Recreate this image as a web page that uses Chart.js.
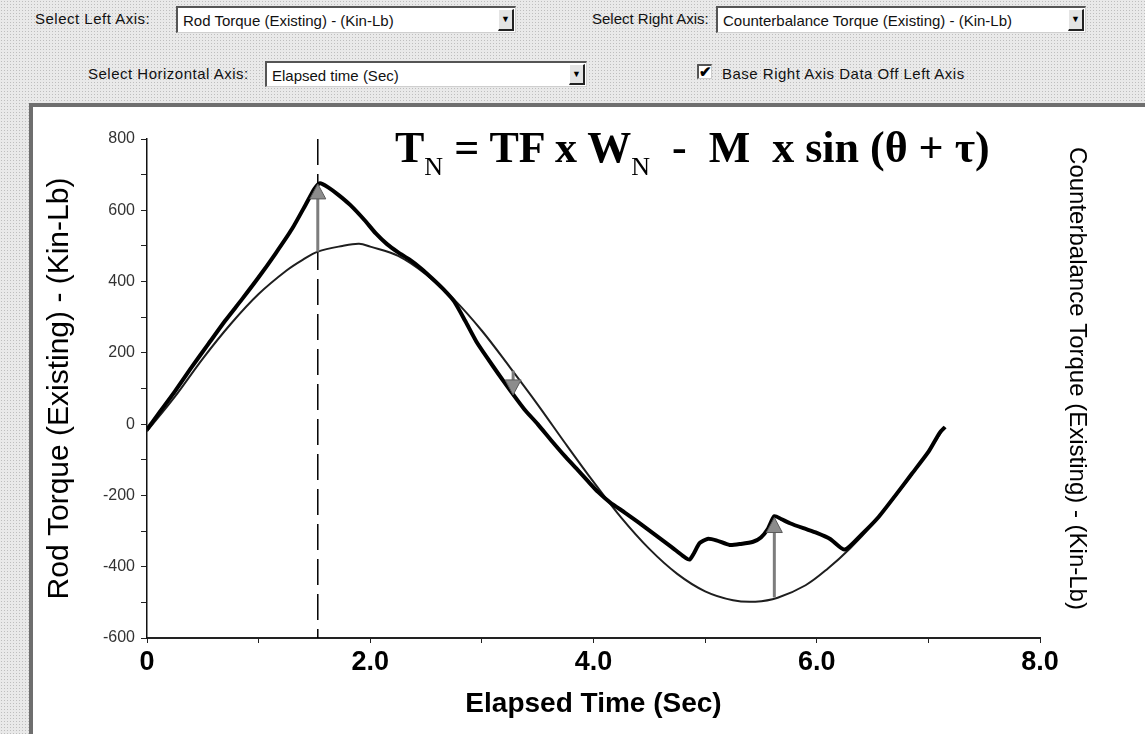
<!DOCTYPE html>
<html><head><meta charset="utf-8">
<script src="https://cdn.jsdelivr.net/npm/chart.js@4.4.0/dist/chart.umd.min.js"></script>
<style>
html,body{margin:0;padding:0;}
body{width:1145px;height:734px;position:relative;overflow:hidden;background:#e9e9e9;font-family:Arial,"Liberation Sans",sans-serif;}
.dither{position:absolute;left:0;top:0;width:1145px;height:734px;background-image:radial-gradient(circle,#9a9a9a 0.6px,transparent 0.9px);background-size:3px 3px;opacity:.55;}
.lbl{position:absolute;font-size:15px;color:#111;white-space:nowrap;letter-spacing:0.5px;}
.box{position:absolute;background:#fff;border-top:2px solid #555;border-left:2px solid #555;border-bottom:1px solid #cfcfcf;border-right:1px solid #cfcfcf;font-size:15px;white-space:nowrap;overflow:hidden;box-sizing:border-box;}
.box span{position:absolute;left:5px;top:4px;color:#111;}
.btn{position:absolute;right:1px;top:1px;bottom:1px;width:16px;background:#e4e4e4;border-left:1px solid #fff;border-top:1px solid #fff;border-right:2px solid #222;border-bottom:2px solid #222;box-sizing:border-box;font-size:9px;text-align:center;line-height:19px;color:#000;}
.chk{position:absolute;width:15px;height:15px;background:#fff;border-top:2px solid #555;border-left:2px solid #555;border-bottom:1px solid #ccc;border-right:1px solid #ccc;box-sizing:border-box;font-size:15px;line-height:12px;text-align:center;font-weight:bold;color:#000;}
#panel{position:absolute;left:29px;top:103px;width:1116px;height:631px;background:#fff;border-left:4px solid #6e6e6e;border-top:4px solid #6e6e6e;box-sizing:border-box;}
#wrap{position:absolute;left:33px;top:107px;width:1112px;height:627px;}
#formula{position:absolute;left:395px;top:126px;font-family:"Liberation Serif","Times New Roman",serif;font-weight:bold;font-size:44px;line-height:44px;white-space:nowrap;color:#000;}
#formula .s{font-size:26px;font-weight:normal;position:relative;top:13px;}
</style></head>
<body>
<div class="dither"></div>
<div class="lbl" style="left:35px;top:10px;">Select Left Axis:</div>
<div class="box" style="left:176px;top:6px;width:340px;height:27px;"><span>Rod Torque (Existing) - (Kin-Lb)</span><div class="btn">&#9660;</div></div>
<div class="lbl" style="left:592px;top:10px;letter-spacing:0;">Select Right Axis:</div>
<div class="box" style="left:716px;top:6px;width:370px;height:27px;"><span>Counterbalance Torque (Existing) - (Kin-Lb)</span><div class="btn">&#9660;</div></div>
<div class="lbl" style="left:88px;top:65px;">Select Horizontal Axis:</div>
<div class="box" style="left:265px;top:61px;width:322px;height:26px;"><span>Elapsed time (Sec)</span><div class="btn">&#9660;</div></div>
<div class="chk" style="left:697px;top:64px;">&#10004;</div>
<div class="lbl" style="left:722px;top:65px;">Base Right Axis Data Off Left Axis</div>
<div id="panel"></div>
<div id="wrap"><canvas id="c" width="1112" height="627"></canvas></div>
<div id="formula">T<span class="s">N</span> = TF x W<span class="s">N</span>&nbsp; - &nbsp;M&nbsp; x sin (&theta; + &tau;)</div>
<script>
// ---- data ----
const rodTime = [0.00,0.10,0.25,0.40,0.55,0.70,0.85,1.00,1.15,1.30,1.42,1.50,1.55,1.62,1.72,1.82,1.95,2.05,2.15,2.25,2.35,2.45,2.55,2.65,2.75,2.85,2.95,3.05,3.15,3.26,3.38,3.50,3.62,3.75,3.86,3.95,4.04,4.15,4.28,4.40,4.55,4.70,4.81,4.86,4.90,4.95,5.02,5.10,5.22,5.32,5.43,5.50,5.56,5.62,5.68,5.76,5.88,6.00,6.12,6.25,6.40,6.55,6.70,6.85,7.00,7.10,7.15];
const rodTorque = [-15,28,92,160,225,290,350,412,478,548,615,660,676,665,642,615,572,535,505,482,462,438,410,380,345,290,232,185,140,92,42,0,-45,-92,-129,-160,-190,-220,-248,-275,-310,-345,-372,-380,-362,-334,-322,-326,-339,-336,-330,-318,-295,-258,-266,-278,-292,-305,-322,-352,-310,-262,-202,-140,-78,-25,-8];
const cbTime = [0.00,0.25,0.50,0.75,1.00,1.25,1.40,1.53,1.75,1.90,2.00,2.25,2.50,2.75,3.00,3.25,3.50,3.75,4.00,4.25,4.50,4.75,5.00,5.25,5.45,5.65,5.90,6.10,6.30,6.50,6.75,7.00,7.12];
const cbTorque = [-20,77,184,281,365,431,462,484,500,506,498,472,420,350,262,160,55,-55,-162,-263,-350,-420,-469,-494,-498,-487,-452,-405,-348,-281,-184,-77,-20];
const markerTime = 1.53;
const markerRange = [800, -600];
const arrowTime = [1.53, 3.28, 5.62];
const arrowFrom = [484, 150, -486];
const arrowTo = [674, 82, -262];
const xTickValues = [0, 2, 4, 6, 8];
const xTickLabels = ['0', '2.0', '4.0', '6.0', '8.0'];
const yMin = -600, yMax = 800;
const xMin = 0, xMax = 8;

const pts = (xs, ys) => xs.map((x, i) => ({x: x, y: ys[i]}));

const arrowPlugin = {
  id: 'arrows',
  afterDatasetsDraw(chart) {
    const ctx = chart.ctx, xs = chart.scales.x, ys = chart.scales.y;
    ctx.save();
    for (let i = 0; i < arrowTime.length; i++) {
      const x = xs.getPixelForValue(arrowTime[i]);
      const y1 = ys.getPixelForValue(arrowFrom[i]);
      const y2 = ys.getPixelForValue(arrowTo[i]);
      const dir = y2 < y1 ? 1 : -1; // 1 = pointing up
      const head = 15, hw = 8;
      ctx.strokeStyle = '#7d7d7d';
      ctx.lineWidth = 3;
      ctx.beginPath();
      ctx.moveTo(x, y1);
      ctx.lineTo(x, y2 + dir * head * 0.8);
      ctx.stroke();
      ctx.beginPath();
      ctx.moveTo(x, y2);
      ctx.lineTo(x - hw, y2 + dir * head);
      ctx.lineTo(x + hw, y2 + dir * head);
      ctx.closePath();
      ctx.fillStyle = '#8c8c8c';
      ctx.fill();
      ctx.lineWidth = 1;
      ctx.strokeStyle = '#5a5a5a';
      ctx.stroke();
    }
    ctx.restore();
  }
};

const fam = 'Arial, "Liberation Sans", sans-serif';

new Chart(document.getElementById('c'), {
  type: 'line',
  data: {
    datasets: [
      {label: 'Rod Torque (Existing)', data: pts(rodTime, rodTorque), borderColor: '#000', borderWidth: 4, pointRadius: 0, tension: 0.2, yAxisID: 'y', order: 1},
      {label: 'Counterbalance Torque (Existing)', data: pts(cbTime, cbTorque), borderColor: '#1e1e1e', borderWidth: 2, pointRadius: 0, tension: 0.35, yAxisID: 'y2', order: 2},
      {label: 'marker', data: [{x: markerTime, y: markerRange[0]}, {x: markerTime, y: markerRange[1]}], borderColor: '#000', borderWidth: 1.5, borderDash: [26, 9], pointRadius: 0, yAxisID: 'y', order: 3}
    ]
  },
  options: {
    responsive: false,
    animation: false,
    events: [],
    layout: {padding: {top: 32, left: 0, right: 0, bottom: 0}},
    plugins: {legend: {display: false}, tooltip: {enabled: false}},
    scales: {
      x: {
        type: 'linear', min: xMin, max: xMax,
        afterFit: s => { s.height = 96; },
        ticks: {stepSize: 1, autoSkip: false, maxRotation: 0, padding: 3, color: '#000',
          font: {family: fam, size: 27, weight: 'bold'},
          callback: v => { const k = xTickValues.indexOf(v); return k >= 0 ? xTickLabels[k] : ''; }},
        grid: {drawOnChartArea: false, drawTicks: true, tickLength: 5, color: '#222'},
        border: {display: true, color: '#222', width: 2},
        title: {display: true, text: 'Elapsed Time (Sec)', color: '#000', font: {family: fam, size: 28, weight: 'bold', lineHeight: 1.2}, padding: {top: 0, bottom: 13}}
      },
      y: {
        type: 'linear', position: 'left', min: yMin, max: yMax,
        afterFit: s => { s.width = 114; },
        ticks: {stepSize: 100, autoSkip: false, padding: 6, color: '#333',
          font: {family: fam, size: 16},
          callback: v => (v % 200 === 0 ? String(v) : '')},
        grid: {drawOnChartArea: false, drawTicks: true, tickLength: 6, color: '#222'},
        border: {display: true, color: '#111', width: 1.5},
        title: {display: true, text: 'Rod Torque (Existing) - (Kin-Lb)', color: '#000', font: {family: fam, size: 30, lineHeight: 1.2}, padding: {top: 9, bottom: 0}}
      },
      y2: {
        type: 'linear', position: 'right', min: yMin, max: yMax,
        afterFit: s => { s.width = 105; },
        ticks: {display: false},
        grid: {display: false, drawTicks: false},
        border: {display: false},
        title: {display: true, text: 'Counterbalance Torque (Existing) - (Kin-Lb)   ', color: '#000', font: {family: fam, size: 24, lineHeight: 1.2}, padding: {top: 54, bottom: 0}}
      }
    }
  },
  plugins: [arrowPlugin]
});
</script>
</body></html>
